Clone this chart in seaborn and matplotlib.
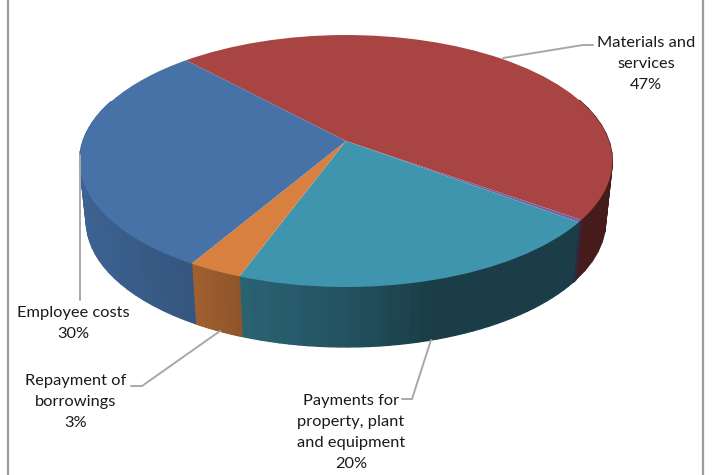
import numpy as np
import matplotlib
matplotlib.use("Agg")
import matplotlib.pyplot as plt
from matplotlib.transforms import Transform
import seaborn as sns

# Spending shares, clockwise from the upper-left slice boundary
categories = ["Materials and\nservices", "Other", "Payments for\nproperty, plant\nand equipment",
              "Repayment of\nborrowings", "Employee costs"]
values = [46.8, 0.3, 20.4, 2.85, 29.65]
top_colors = ["#A84442", "#7B5FA0", "#4095AE", "#D88040", "#4672A8"]
labelled = [True, False, True, True, True]
label_centres = [(646, 64), None, (351, 432.5), (76, 402), (73, 323.5)]
leaders = [[(503, 58), (583, 45), (593, 45)], None, [(431, 340), (412, 399), (402, 399)],
           [(220, 331), (142, 386), (131, 386)], [(80, 155), (80, 300)]]

START_ANGLE = 132.8
CX, CY, RX, RY, TILT = 346.0, 141.0, 263.0, 122.8, 0.1587
DEPTH, FLOOR_SCALE = 60.0, 0.975


class DiscProjection(Transform):
    """Perspective view of the unit disc, so near edges look larger."""
    input_dims = output_dims = 2

    def transform_non_affine(self, xy):
        xy = np.asarray(xy, dtype=float)
        w = 1 + TILT * xy[:, 1]
        return np.column_stack([CX + RX * xy[:, 0] / w, CY - RY * xy[:, 1] / w])


projection = DiscProjection()

sns.set_theme(style="white")
plt.rcParams["font.family"] = ["Lato", "DejaVu Sans"]

fig = plt.figure(figsize=(7.13, 4.75), dpi=100)
ax = fig.add_axes([0, 0, 1, 1])

# Outer rim: thin strips, darker towards the right-hand side
edges = START_ANGLE - 360 * np.cumsum([0] + values) / sum(values)
for k, color in enumerate(top_colors):
    base = np.array(sns.color_palette([color])[0])
    steps = np.linspace(edges[k], edges[k + 1], 40)
    for a0, a1 in zip(steps[:-1], steps[1:]):
        th = np.radians([a0, a1])
        if np.sin(th).mean() > 0.35:
            continue
        rim = projection.transform_non_affine(np.column_stack([np.cos(th), np.sin(th)]))
        floor = np.column_stack([CX + (rim[:, 0] - CX) * FLOOR_SCALE, rim[:, 1] + DEPTH])
        quad = np.vstack([rim, floor[::-1]])
        shade = np.interp(quad[:, 0].mean(), [80, 192, 241, 340, 430, 613],
                          [0.87, 0.75, 0.66, 0.56, 0.41, 0.41])
        ax.fill(quad[:, 0], quad[:, 1], color=tuple(base * shade), lw=1.0, zorder=2)

# Top face: an ordinary pie pushed through the perspective transform
wedges, _ = ax.pie(values, colors=top_colors, startangle=START_ANGLE, counterclock=False,
                   radius=1.0, center=(0, 0), wedgeprops={"linewidth": 0})
for w in wedges:
    w.set_transform(projection + ax.transData)
    w.set_zorder(5)
    w.set_clip_on(False)

ax.set_aspect("auto")
ax.set_xlim(0, 713)
ax.set_ylim(475, 0)
ax.axis("off")

# Chart frame, open at the top and bottom
for x in (8, 703):
    ax.plot([x, x], [0, 475], color="#9C9C9C", lw=1.6, zorder=1, solid_capstyle="butt")

# Leader lines and data labels
for name, val, show, centre, path in zip(categories, values, labelled, label_centres, leaders):
    if not show:
        continue
    px, py = zip(*path)
    ax.plot(px, py, color="#A8A8A8", lw=1.4, zorder=6, solid_joinstyle="miter")
    ax.text(centre[0], centre[1], f"{name}\n{val:.0f}%", ha="center", va="center",
            fontsize=11.8, color="#1a1a1a", linespacing=1.62, zorder=7)

fig.savefig("out.png", dpi=100, facecolor="white")
